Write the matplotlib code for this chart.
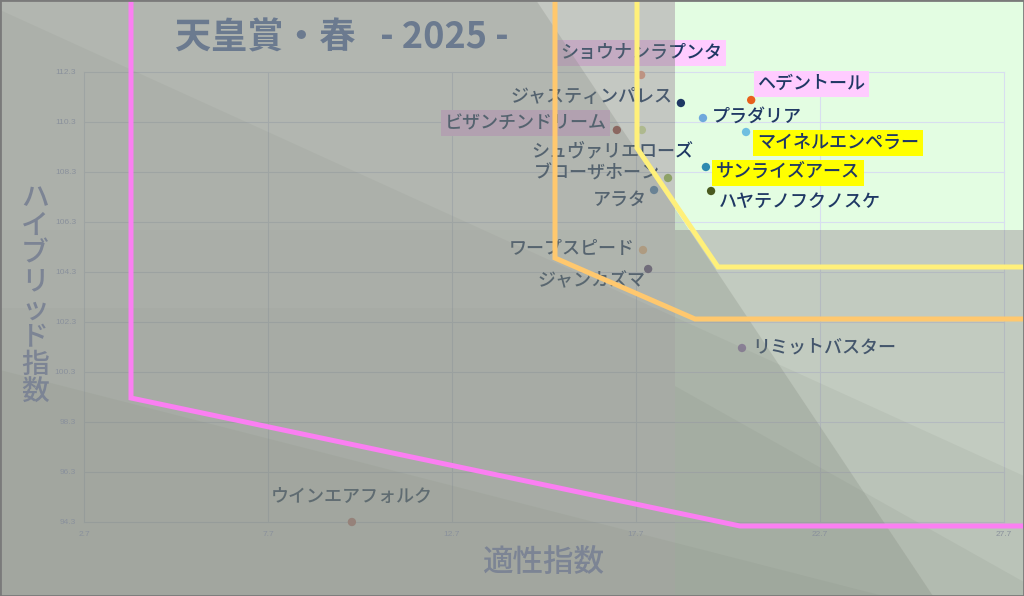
import numpy as np
import matplotlib.pyplot as plt
from matplotlib.patches import Polygon, Rectangle

plt.rcParams['font.family'] = ['Noto Sans CJK JP', 'DejaVu Sans']

# データ（適性指数, ハイブリッド指数）
names = ['ショウナンラプンタ', 'ジャスティンパレス', 'ヘデントール', 'プラダリア',
         'ビザンチンドリーム', 'シュヴァリエローズ', 'マイネルエンペラー', 'サンライズアース',
         'ブローザホーン', 'ハヤテノフクノスケ', 'アラタ', 'ワープスピード',
         'ジャンカズマ', 'リミットバスター', 'ウインエアフォルク']
tekisei = [17.84, 18.92, 20.83, 19.52, 17.18, 17.86, 20.69, 19.60,
           18.57, 19.74, 18.19, 17.89, 18.03, 20.58, 9.98]
hybrid = [112.18, 111.06, 111.18, 110.46, 109.98, 109.98, 109.90, 108.50,
          108.06, 107.54, 107.58, 105.18, 104.42, 101.26, 94.30]
dot_colors = ['#f2a08a', '#1f3864', '#e8601c', '#6fa8dc', '#a0403d', '#d7e4a0',
              '#6fbfe0', '#2e8ab0', '#9bbb59', '#4a5a20', '#4f81bd', '#fac090',
              '#604a7b', '#9a7ab8', '#d98080']
box_colors = {'ショウナンラプンタ': '#ffccff', 'ヘデントール': '#ffccff',
              'ビザンチンドリーム': '#ffccff', 'マイネルエンペラー': '#ffff00',
              'サンライズアース': '#ffff00'}

xticks = [2.7, 7.7, 12.7, 17.7, 22.7, 27.7]
yticks = [94.3, 96.3, 98.3, 100.3, 102.3, 104.3, 106.3, 108.3, 110.3, 112.3]

# ラベル位置（ドットからのずれ, px）
label_pos = {
    'ショウナンラプンタ': (0, -22, 'center'), 'ジャスティンパレス': (-8, -6, 'right'),
    'ヘデントール': (6, -16, 'left'), 'プラダリア': (9, -1, 'left'),
    'ビザンチンドリーム': (-10, -7, 'right'), 'シュヴァリエローズ': (51, 21, 'right'),
    'マイネルエンペラー': (11, 11, 'left'), 'サンライズアース': (10, 6, 'left'),
    'ブローザホーン': (-8, -5, 'right'), 'ハヤテノフクノスケ': (8, 11, 'left'),
    'アラタ': (-7, 10, 'right'), 'ワープスピード': (-8, -1, 'right'),
    'ジャンカズマ': (-3, 12, 'right'), 'リミットバスター': (10, -1, 'left'),
    'ウインエアフォルク': (0, -25, 'center'),
}

W, H = 1024, 596
sx, sy = 36.8, 25.0
x0 = 2.7 - 84 / sx
y1 = 94.3 + 522 / sy


def P(px, py):
    return (x0 + px / sx, y1 - py / sy)


fig = plt.figure(figsize=(W / 100, H / 100), dpi=100)
ax = fig.add_axes([0, 0, 1, 1])
ax.set_xlim(x0, x0 + W / sx)
ax.set_ylim(y1 - H / sy, y1)
ax.axis('off')
fig.patch.set_facecolor('white')

# 右上の淡い緑
ax.add_patch(Polygon([P(675, 0), P(W, 0), P(W, 230), P(675, 230)], closed=True,
                     fc='#e3fde2', ec='none', zorder=0))
ax.add_patch(Polygon([P(675, 230), P(W, 230), P(W, H), P(675, H)], closed=True,
                     fc='#f0fbef', ec='none', zorder=0))

# グリッド
for xv in xticks:
    ax.plot([xv, xv], [94.3, 112.3], color='#d8def0', lw=0.8, zorder=1)
for yv in yticks:
    ax.plot([2.7, 27.7], [yv, yv], color='#d8def0', lw=0.8, zorder=1)

ax.scatter(tekisei, hybrid, s=36, c=dot_colors, zorder=3, linewidths=0)

for n, xv, yv in zip(names, tekisei, hybrid):
    dx, dy, ha = label_pos[n]
    bb = None
    if n in box_colors:
        bb = dict(boxstyle='square,pad=0.2', fc=box_colors[n], ec='none')
    ax.annotate(n, (xv, yv), xytext=(dx * 0.72, -dy * 0.72), textcoords='offset points',
                ha=ha, va='center', fontsize=13, fontweight='medium', color='#1f3864',
                bbox=bb, zorder=4)

# 灰色の半透明レイヤー
ov = '#7e857a'
layers = [
    ([(0, 0), (675, 0), (675, 230), (W, 230), (W, H), (0, H)], 0.40),
    ([(0, 0), (536, 0), (933, H), (0, H)], 0.25),
    ([(0, 0), (675, 0), (675, H), (0, H)], 0.08),
    ([(0, 10), (W, 476), (W, H), (0, H)], 0.11),
    ([(675, 386), (W, 582), (W, H), (675, H)], 0.12),
    ([(0, 370), (W, 632), (W, H), (0, H)], 0.12),
    ([(0, 230), (675, 230), (675, H), (0, H)], 0.04),
    ([(0, 308), (675, 308), (675, H), (0, H)], 0.05),
]
for pts, a in layers:
    ax.add_patch(Polygon([P(*p) for p in pts], closed=True, fc=ov, ec='none',
                         alpha=a, zorder=5))

# 境界線
pink = [(131, -5), (131, 398), (740, 526), (W + 5, 526)]
orange = [(555, -5), (555, 258), (695, 319), (W + 5, 319)]
yellow = [(637, -5), (637, 148), (718, 267), (W + 5, 267)]
for pts, c in [(pink, '#fb7ff2'), (orange, '#ffc86e'), (yellow, '#fff07a')]:
    xs, ys = zip(*[P(*p) for p in pts])
    ax.plot(xs, ys, color=c, lw=3.6, zorder=6, solid_joinstyle='miter')

# 目盛りラベル
for xv in xticks:
    ax.text(xv, P(0, 535)[1], str(xv), ha='center', va='center', fontsize=6,
            color='#8a919c', family='Liberation Sans', zorder=7)
for yv in yticks:
    ax.text(P(76, 0)[0], yv, str(yv), ha='right', va='center', fontsize=6,
            color='#8a919c', family='Liberation Sans', zorder=7)

ax.text(*P(175, 38), '天皇賞・春   - 2025 -', ha='left', va='center', fontsize=26,
        fontweight='bold', color='#6b7a8f', zorder=7)
ax.text(*P(543, 563), '適性指数', ha='center', va='center', fontsize=22,
        color='#7c8494', fontweight='medium', zorder=7)
ax.text(*P(35, 295), '\n'.join('ハイブリッド指数'), ha='center', va='center',
        fontsize=20, color='#7c8494', fontweight='medium', linespacing=0.95, zorder=7)

fig.add_artist(Rectangle((0, 0), 1, 1, transform=fig.transFigure, fill=False,
                         ec='#7a7a7a', lw=2, zorder=10))

fig.savefig('out.png', dpi=100)
